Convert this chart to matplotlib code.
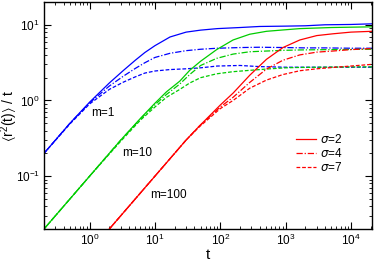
import matplotlib
matplotlib.use("Agg")
import matplotlib.pyplot as plt
from matplotlib.ticker import LogLocator, NullFormatter

plt.rcParams['font.family'] = ['Liberation Sans', 'DejaVu Sans']
plt.rcParams['mathtext.fontset'] = 'custom'
plt.rcParams['mathtext.rm'] = 'Liberation Sans'
plt.rcParams['mathtext.fallback'] = 'stixsans'

# m = 1 (blue)
t_m1 = [0.2, 0.5, 1, 2, 3.3, 5, 7, 10, 17, 30, 50, 90, 200, 400, 1000, 2000, 4000, 10000, 21000]
m1_s2 = [0.2, 0.5, 0.95, 1.7, 2.5, 3.4, 4.3, 5.3, 6.9, 8.0, 8.5, 8.9, 9.2, 9.5, 9.6, 9.7, 10.0, 10.1, 10.3]
m1_s4 = [0.2, 0.5, 0.93, 1.55, 2.1, 2.65, 3.15, 3.7, 4.2, 4.55, 4.75, 4.9, 5.0, 5.05, 5.0, 4.95, 4.95, 4.9, 4.9]
m1_s7 = [0.2, 0.49, 0.9, 1.4, 1.75, 2.05, 2.3, 2.45, 2.56, 2.62, 2.7, 2.85, 2.9, 2.8, 2.75, 2.75, 2.75, 2.75, 2.75]

# m = 10 (green)
t_m10 = [0.2, 1, 3, 6, 10, 15, 24, 34, 50, 88, 157, 282, 510, 1000, 1650, 5000, 21000]
m10_s2 = [0.02, 0.1, 0.3, 0.58, 0.92, 1.3, 1.8, 2.5, 3.3, 4.7, 6.3, 7.5, 8.2, 8.6, 8.9, 9.2, 9.4]
m10_s4 = [0.02, 0.1, 0.3, 0.57, 0.88, 1.2, 1.65, 2.2, 2.9, 3.6, 4.1, 4.4, 4.5, 4.6, 4.65, 4.7, 4.75]
m10_s7 = [0.02, 0.1, 0.29, 0.55, 0.82, 1.1, 1.4, 1.7, 2.0, 2.25, 2.4, 2.5, 2.6, 2.7, 2.73, 2.76, 2.78]

# m = 100 (red)
t_m100 = [2, 10, 30, 48, 100, 157, 282, 510, 910, 1650, 3000, 5300, 10000, 21000]
m100_s2 = [0.02, 0.1, 0.3, 0.46, 0.87, 1.25, 2.15, 3.5, 5.0, 6.3, 7.2, 7.6, 8.0, 8.2]
m100_s4 = [0.02, 0.1, 0.3, 0.46, 0.82, 1.1, 1.73, 2.6, 3.4, 4.0, 4.35, 4.5, 4.7, 4.85]
m100_s7 = [0.02, 0.1, 0.3, 0.45, 0.78, 1.0, 1.45, 1.86, 2.2, 2.47, 2.62, 2.73, 2.85, 3.0]

sigma_labels = [r'$\sigma$=2', r'$\sigma$=4', r'$\sigma$=7']
m_labels = ['m=1', 'm=10', 'm=100']
m_label_pos = [(1.07, 0.68), (3.1, 0.2), (8.3, 0.056)]

styles = ['-', (0, (5, 1.5, 1, 1.5)), (0, (3, 1.5))]

fig = plt.figure(figsize=(3.74, 2.61), dpi=100)
ax = fig.add_axes([0.1176, 0.1226, 0.877, 0.8697])

groups = [
    (t_m1, [m1_s2, m1_s4, m1_s7], '#0000ff'),
    (t_m10, [m10_s2, m10_s4, m10_s7], '#00cc00'),
    (t_m100, [m100_s2, m100_s4, m100_s7], '#ff0000'),
]
for t, series, col in groups:
    for vals, ls, lab in zip(series, styles, sigma_labels):
        ax.plot(t, vals, color=col, ls=ls, lw=0.9,
                label=lab if col == '#ff0000' else None)

ax.set_xscale('log')
ax.set_yscale('log')
ax.set_xlim(0.2, 2.1e4)
ax.set_ylim(0.02, 20)

ax.xaxis.set_major_locator(LogLocator(base=10, numticks=10))
ax.xaxis.set_minor_locator(LogLocator(base=10, subs=range(2, 10), numticks=20))
ax.yaxis.set_minor_locator(LogLocator(base=10, subs=range(2, 10), numticks=20))
ax.xaxis.set_minor_formatter(NullFormatter())
ax.yaxis.set_minor_formatter(NullFormatter())
ax.tick_params(which='both', direction='in', top=True, right=True, labelsize=8.5)
ax.tick_params(which='major', length=5, width=0.8, pad=3)
ax.tick_params(which='minor', length=2.5, width=0.6)
for sp in ax.spines.values():
    sp.set_linewidth(1.0)

ax.set_xlabel('t', fontsize=11)
ax.xaxis.set_label_coords(0.5, -0.085)
ax.set_ylabel(r'$\langle$r$^2$(t)$\rangle$ / t', fontsize=10)
ax.yaxis.set_label_coords(-0.073, 0.5)

for lab, (x, y) in zip(m_labels, m_label_pos):
    ax.text(x, y, lab, fontsize=8.5, va='center')

leg = ax.legend(loc='upper left', bbox_to_anchor=(0.735, 0.47), frameon=False,
                fontsize=8.5, handlelength=1.7, handletextpad=0.4, labelspacing=0.1)

fig.savefig('out.png', dpi=100)
